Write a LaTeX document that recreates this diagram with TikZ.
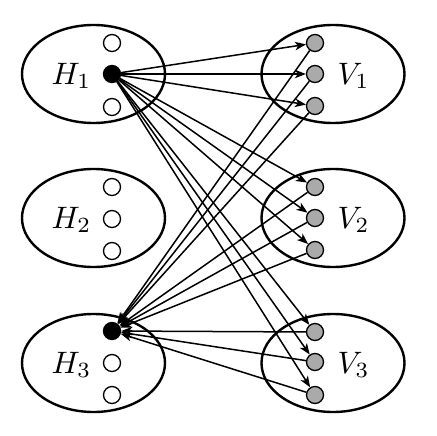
\documentclass[tikz,border=0pt]{standalone}
\usetikzlibrary{shapes.geometric,arrows.meta}
\definecolor{dotgrey}{RGB}{170,170,170}
\begin{document}
\begin{tikzpicture}[x=1pt,y=-1pt,
  grp/.style={draw,ellipse,line width=2.4pt,minimum width=143pt,minimum height=98pt,inner sep=0pt},
  wdot/.style={draw,circle,line width=1.3pt,fill=white,minimum size=17pt,inner sep=0pt},
  bdot/.style={draw,circle,line width=1.3pt,fill=black,minimum size=17pt,inner sep=0pt},
  gdot/.style={draw,circle,line width=1.3pt,fill=dotgrey,minimum size=17pt,inner sep=0pt},
  lbl/.style={scale=3.1,inner sep=0pt,anchor=base west},
  arr/.style={line width=1.5pt,-{Stealth[length=11pt,width=8.5pt,inset=3pt]}}]
\useasboundingbox (0,0) rectangle (436,436);
% groups
\node[grp] (H1) at (93.5,74) {};
\node[grp] (H2) at (93.5,218) {};
\node[grp] (H3) at (93.5,363) {};
\node[grp] (V1) at (333,74) {};
\node[grp] (V2) at (333,218) {};
\node[grp] (V3) at (333,363) {};
% labels
\node[lbl] (lH1) at (51,84) {$H_1$};
\node[lbl] (lH2) at (51,228) {$H_2$};
\node[lbl] (lH3) at (51,373) {$H_3$};
\node[lbl] (lV1) at (337,84) {$V_1$};
\node[lbl] (lV2) at (337,228) {$V_2$};
\node[lbl] (lV3) at (337,373) {$V_3$};
% dots
\node[wdot] (h1a) at (112,43) {};
\node[bdot] (h1b) at (112,74) {};
\node[wdot] (h1c) at (112,107) {};
\node[wdot] (h2a) at (112,187) {};
\node[wdot] (h2b) at (112,219) {};
\node[wdot] (h2c) at (112,251) {};
\node[bdot] (h3a) at (112,331) {};
\node[wdot] (h3b) at (112,363) {};
\node[wdot] (h3c) at (112,395) {};
\node[gdot] (v1a) at (315,43) {};
\node[gdot] (v1b) at (315,74) {};
\node[gdot] (v1c) at (315,106) {};
\node[gdot] (v2a) at (315,187) {};
\node[gdot] (v2b) at (315,218) {};
\node[gdot] (v2c) at (315,250) {};
\node[gdot] (v3a) at (315,332) {};
\node[gdot] (v3b) at (315,362) {};
\node[gdot] (v3c) at (315,395) {};
% edges
\foreach \t in {v1a,v1b,v1c,v2a,v2b,v2c,v3a,v3b,v3c}{
  \draw[arr] (h1b) -- (\t);
  \draw[arr] (\t) -- (h3a);
}
\end{tikzpicture}
\end{document}
